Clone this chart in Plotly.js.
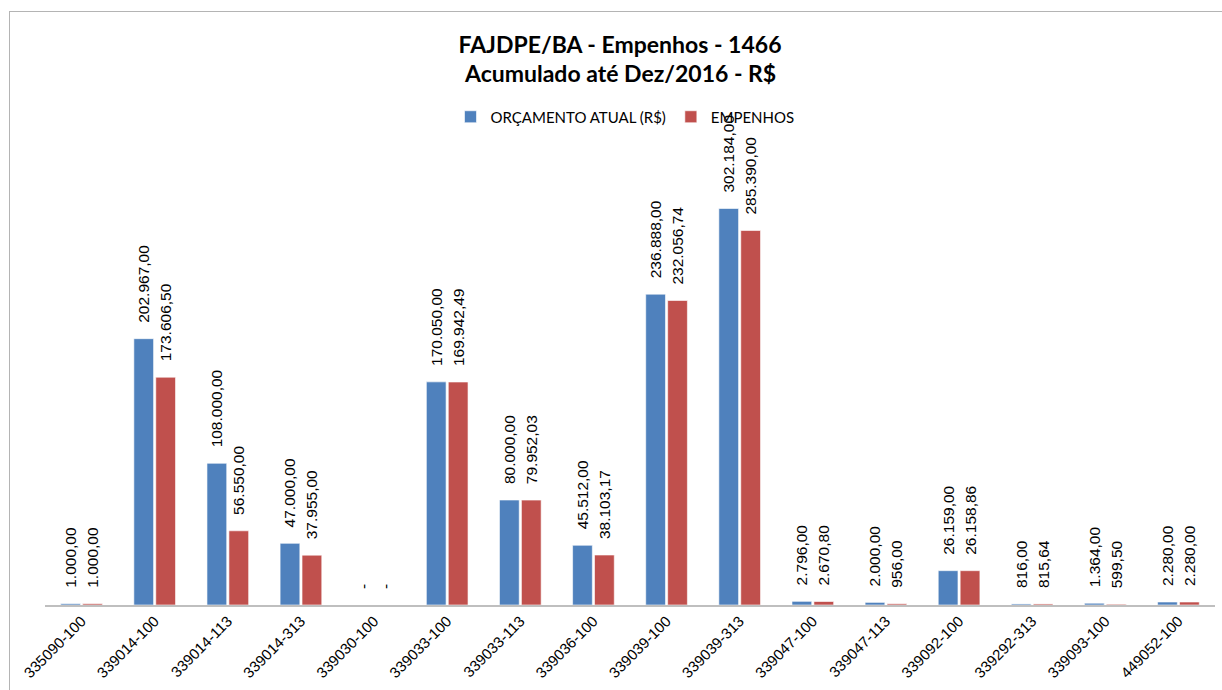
<!DOCTYPE html>
<html>
<head>
<meta charset="utf-8">
<script src="https://cdn.plot.ly/plotly-3.0.1.min.js"></script>
<style>
html,body{margin:0;padding:0;background:#fff;}
#frame{position:absolute;left:9px;top:11px;width:1230px;height:700px;border-top:1px solid #b4b4b4;border-left:1px solid #b4b4b4;pointer-events:none;z-index:5;}
#chart{width:1222px;height:690px;}
</style>
</head>
<body>
<div id="frame"></div>
<div id="chart"></div>
<script>
const categories = ["335090-100","339014-100","339014-113","339014-313","339030-100","339033-100","339033-113","339036-100","339039-100","339039-313","339047-100","339047-113","339092-100","339292-313","339093-100","449052-100"];
const orcamento = [1000, 202967, 108000, 47000, 0, 170050, 80000, 45512, 236888, 302184, 2796, 2000, 26159, 816, 1364, 2280];
const empenhos = [1000, 173606.50, 56550, 37955, 0, 169942.49, 79952.03, 38103.17, 232056.74, 285390, 2670.80, 956, 26158.86, 815.64, 599.50, 2280];
const seriesNames = ["ORÇAMENTO ATUAL (R$)", "EMPENHOS"];
const titleLine1 = "FAJDPE/BA - Empenhos - 1466";
const titleLine2 = "Acumulado até Dez/2016 - R$";

const PAD = "\u00a0\u00a0\u00a0";
function fmt(v){
  if (v === 0) return PAD + "-";
  const parts = v.toFixed(2).split(".");
  const intPart = parts[0].replace(/\B(?=(\d{3})+(?!\d))/g, ".");
  return PAD + intPart + "," + parts[1];
}

const labelFont = {family: "Liberation Sans, Arial, sans-serif", size: 15.5, color: "#000"};
const titleFont = {family:"Lato, Open Sans, sans-serif", size:23, color:"#000", weight:"bold"};

const traces = [
  {type:"bar", name: seriesNames[0], x: categories, y: orcamento, text: orcamento.map(fmt),
   textposition:"outside", textangle:-90, textfont: labelFont, cliponaxis:false, constraintext:"none",
   marker:{color:"#4F81BD", line:{color:"#ffffff", width:0.6}}},
  {type:"bar", name: seriesNames[1], x: categories, y: empenhos, text: empenhos.map(fmt),
   textposition:"outside", textangle:-90, textfont: labelFont, cliponaxis:false, constraintext:"none",
   marker:{color:"#C0504D", line:{color:"#ffffff", width:0.6}}}
];

const layout = {
  width:1222, height:690,
  margin:{l:45, r:7, t:130, b:85},
  paper_bgcolor:"#fff", plot_bgcolor:"#fff",
  title:{text:titleLine1, x:620/1222, xanchor:"center", y:1-45/690, yanchor:"middle", font:titleFont},
  annotations:[{text:titleLine2, xref:"paper", yref:"paper", x:(620-45)/1170, xanchor:"center",
                y:(690-73-85)/475, yanchor:"middle", showarrow:false, font:titleFont}],
  showlegend:true,
  legend:{orientation:"h", x:(625-45)/1170, xanchor:"center", y:(690-117-85)/475, yanchor:"middle",
          bgcolor:"rgba(0,0,0,0)",
          font:{family:"Lato, Liberation Sans, sans-serif", size:15, color:"#000"}, itemwidth:30},
  barmode:"group", bargap:0.4, bargroupgap:0.1,
  xaxis:{type:"category", tickangle:-45, showline:true, linecolor:"#bfbfbf", linewidth:1.5, ticks:"",
         tickfont:{family:"Liberation Sans, Arial, sans-serif", size:15, color:"#000"}, showgrid:false},
  yaxis:{range:[0, 362000], visible:false, showgrid:false, zeroline:false, fixedrange:true}
};

Plotly.newPlot("chart", traces, layout, {displayModeBar:false, staticPlot:true});
</script>
</body>
</html>
